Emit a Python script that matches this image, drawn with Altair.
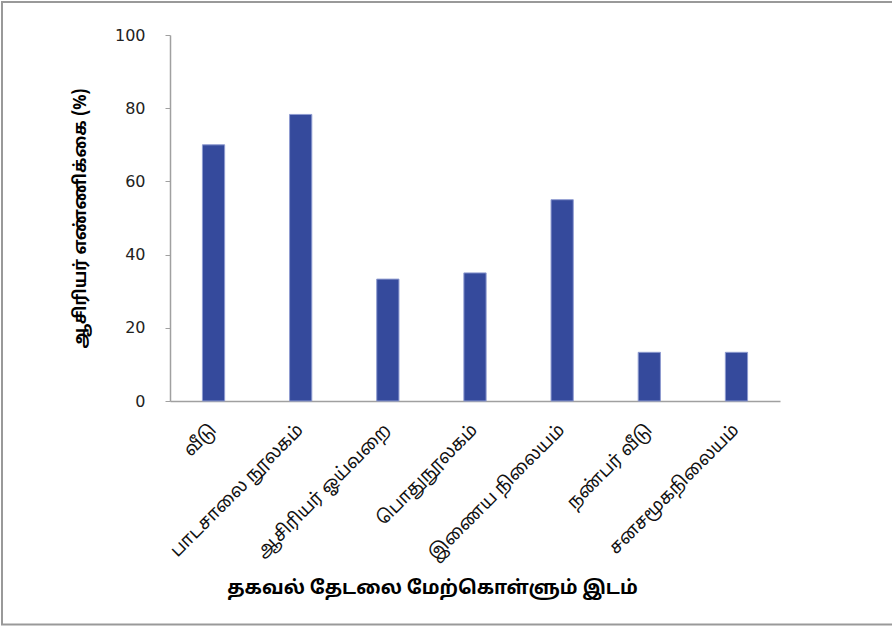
import altair as alt
import pandas as pd

categories = ["வீடு", "பாடசாலை நூலகம்", "ஆசிரியர் ஓய்வறை", "பொதுநூலகம்",
              "இணைய நிலையம்", "நண்பர் வீடு", "சனசமூகநிலையம்"]
values = [70.0, 78.3, 33.3, 35.0, 55.0, 13.3, 13.3]

df = pd.DataFrame({"place": categories, "pct": values})
frame_df = pd.DataFrame({"k": [0]})

TAMIL = "'Noto Sans Tamil', 'Lohit Tamil', 'Latha', sans-serif"
W, H = 610, 366

bars = alt.Chart(df).mark_bar(
    color="#354A9C", stroke="#8E9BD0", strokeWidth=1
).encode(
    x=alt.X("place:N", sort=categories,
            scale=alt.Scale(paddingInner=0.745, paddingOuter=0.372),
            axis=alt.Axis(
                title="தகவல் தேடலை மேற்கொள்ளும் இடம்",
                titleFont=TAMIL, titleFontSize=19, titleFontWeight="bold",
                titleColor="#000000", titleX=262, titleY=186,
                titleBaseline="middle",
                labelFont=TAMIL, labelFontSize=18, labelColor="#111111",
                labelAngle=-45, labelAlign="right", labelBaseline="middle",
                labelPadding=26, labelLimit=500, ticks=False,
                domainColor="#A0A0A0", domainWidth=1.5)),
    y=alt.Y("pct:Q", scale=alt.Scale(domain=[0, 100]),
            axis=alt.Axis(
                title="ஆசிரியர் எண்ணிக்கை (%)",
                titleFont=TAMIL, titleFontSize=17, titleFontWeight="bold",
                titleColor="#000000", titleX=-90, titleY=183,
                titleBaseline="middle",
                labelFont="DejaVu Sans", labelFontSize=16, labelColor="#222222",
                labelPadding=20, values=[0, 20, 40, 60, 80, 100],
                tickSize=5, tickColor="#A0A0A0", domainColor="#A0A0A0",
                domainWidth=1.5, grid=False)),
)

frame = alt.Chart(frame_df).mark_rect(
    fill=None, stroke="#999999", strokeWidth=2
).encode(
    x=alt.value(-168), x2=alt.value(W + 115),
    y=alt.value(-33), y2=alt.value(589.5),
)

chart = alt.layer(bars, frame).properties(
    width=W, height=H,
    autosize=alt.AutoSizeParams(type="none"),
    padding={"left": 170, "top": 35, "right": 112, "bottom": 226},
    background="white",
).configure_view(stroke=None)

chart.save("out.html", embed_options={"renderer": "svg", "actions": False})
